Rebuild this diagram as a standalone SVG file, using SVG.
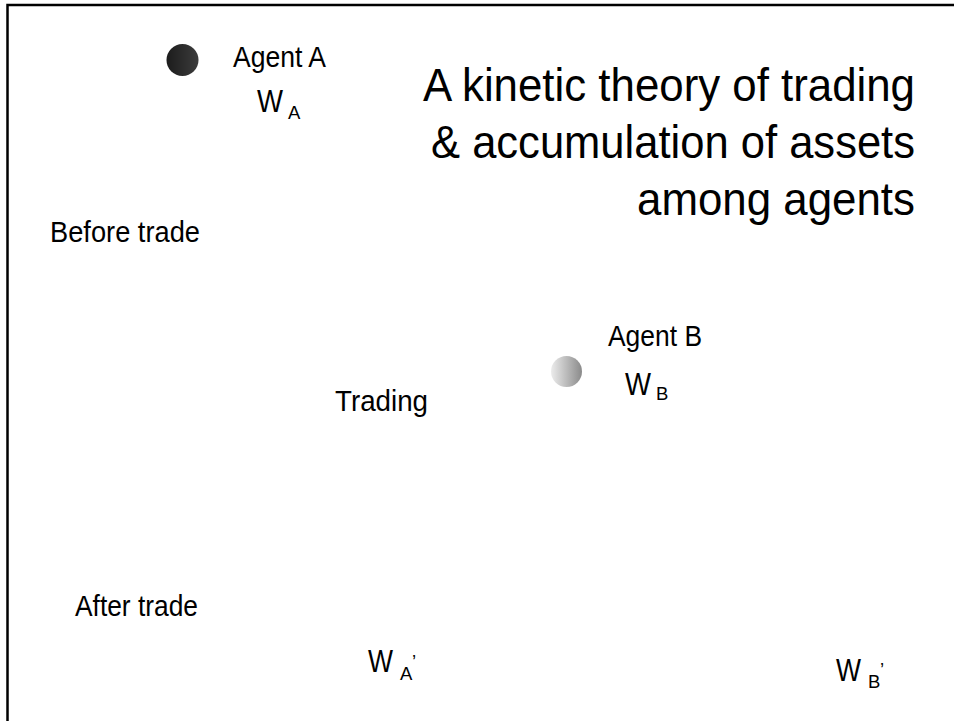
<svg xmlns="http://www.w3.org/2000/svg" width="954" height="721" viewBox="0 0 954 721">
  <style>
    text { font-family: "Liberation Sans", Arial, sans-serif; fill: #000; }
    .label { font-size: 29px; }
    .w { font-size: 31px; }
    .sub { font-size: 18.5px; }
    .title { font-size: 47px; text-anchor: end; }
  </style>
  <defs>
    <linearGradient id="darkBall" x1="0" y1="0" x2="1" y2="0">
      <stop offset="0" stop-color="#1c1c1c"/>
      <stop offset="1" stop-color="#3c3c3c"/>
    </linearGradient>
    <linearGradient id="lightBall" x1="0" y1="0" x2="1" y2="0">
      <stop offset="0" stop-color="#ececec"/>
      <stop offset="1" stop-color="#8a8a8a"/>
    </linearGradient>
  </defs>

  <rect width="954" height="721" fill="#fff"/>
  <!-- frame -->
  <path d="M7.5 730 V5 H960" fill="none" stroke="#000" stroke-width="2.5"/>

  <g id="title">
    <text class="title" x="915" y="101" textLength="492" lengthAdjust="spacingAndGlyphs">A kinetic theory of trading</text>
    <text class="title" x="915" y="158" textLength="484" lengthAdjust="spacingAndGlyphs">&amp; accumulation of assets</text>
    <text class="title" x="915" y="215" textLength="278" lengthAdjust="spacingAndGlyphs">among agents</text>
  </g>

  <g id="agent-a">
    <circle cx="182.5" cy="60" r="16" fill="url(#darkBall)"/>
    <text class="label" x="233" y="67" textLength="93" lengthAdjust="spacingAndGlyphs">Agent A</text>
    <text class="w" x="257" y="112" textLength="26" lengthAdjust="spacingAndGlyphs">W</text>
    <text class="sub" x="288" y="119">A</text>
  </g>

  <g id="agent-b">
    <circle cx="566.5" cy="371.5" r="15.5" fill="url(#lightBall)"/>
    <text class="label" x="608" y="346" textLength="94" lengthAdjust="spacingAndGlyphs">Agent B</text>
    <text class="w" x="625" y="395" textLength="26" lengthAdjust="spacingAndGlyphs">W</text>
    <text class="sub" x="656" y="400">B</text>
  </g>

  <g id="labels">
    <text class="label" x="50" y="242" textLength="150" lengthAdjust="spacingAndGlyphs">Before trade</text>
    <text class="label" x="335" y="411" textLength="93" lengthAdjust="spacingAndGlyphs">Trading</text>
    <text class="label" x="75" y="616" textLength="123" lengthAdjust="spacingAndGlyphs">After trade</text>
  </g>

  <g id="after-a">
    <text class="w" x="368" y="672" textLength="25" lengthAdjust="spacingAndGlyphs">W</text>
    <text class="sub" x="400" y="680">A</text>
    <text class="sub" x="412" y="668">’</text>
  </g>

  <g id="after-b">
    <text class="w" x="836" y="681" textLength="25" lengthAdjust="spacingAndGlyphs">W</text>
    <text class="sub" x="868" y="688">B</text>
    <text class="sub" x="880" y="676">’</text>
  </g>

  <g id="connectors"/>
</svg>
